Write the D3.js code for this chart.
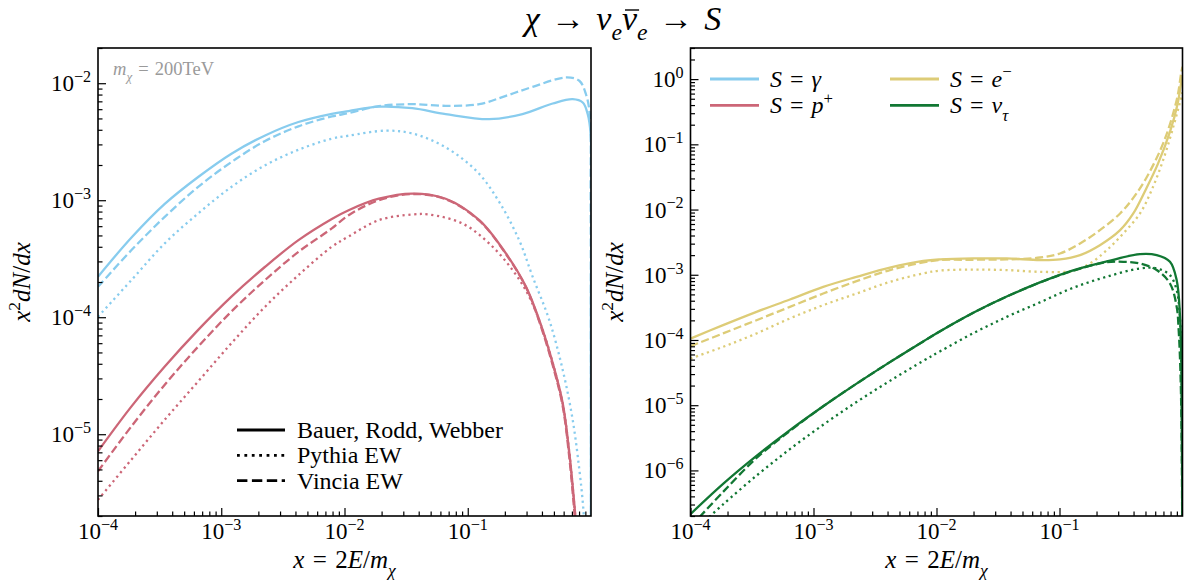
<!DOCTYPE html>
<html>
<head>
<meta charset="utf-8">
<script src="https://cdn.jsdelivr.net/npm/d3@7"></script>
<style>
  body { margin: 0; background: #fff; }
  svg { display: block; }
  text { font-family: "Liberation Serif", "DejaVu Serif", serif; fill: #000; }
</style>
</head>
<body>
<svg id="chart" width="1192" height="580"></svg>
<script>
// ---- data: [x, x^2 dN/dx] ----
// left panel, photons (blue) and protons (red)
const bluBRW = [[1e-4,2.22e-4],[1.87e-4,4.80e-4],[3.48e-4,9.30e-4],[6.50e-4,1.58e-3],[1.21e-3,2.50e-3],[2.27e-3,3.58e-3],[4.23e-3,4.66e-3],[7.89e-3,5.48e-3],[1.08e-2,5.78e-3],[1.90e-2,6.30e-3],[3.55e-2,6.12e-3],[6.62e-2,5.45e-3],[0.149,4.93e-3],[0.278,5.45e-3],[0.489,6.71e-3],[0.710,7.31e-3],[0.857,6.84e-3],[0.940,5.45e-3],[0.993,3.67e-3],[0.9977,1e-4],[0.9993,1e-8]];
const bluVincia = [[1e-4,1.82e-4],[1.87e-4,3.75e-4],[3.48e-4,7.21e-4],[6.50e-4,1.30e-3],[1.21e-3,2.12e-3],[2.27e-3,3.21e-3],[4.23e-3,4.28e-3],[7.89e-3,5.20e-3],[1.08e-2,5.55e-3],[1.90e-2,6.37e-3],[3.55e-2,6.62e-3],[6.62e-2,6.41e-3],[0.124,6.62e-3],[0.204,7.80e-3],[0.336,9.31e-3],[0.627,1.12e-2],[0.804,1.05e-2],[0.910,8.05e-3],[0.977,5.45e-3],[0.993,1e-3],[0.9988,1e-8]];
const bluPythia = [[1e-4,1.01e-4],[1.87e-4,2.08e-4],[3.48e-4,4.28e-4],[6.50e-4,7.71e-4],[1.21e-3,1.30e-3],[2.27e-3,1.99e-3],[4.23e-3,2.70e-3],[7.89e-3,3.36e-3],[1.08e-2,3.56e-3],[2.15e-2,3.93e-3],[3.55e-2,3.72e-3],[6.62e-2,2.83e-3],[0.120,1.74e-3],[0.180,9.66e-4],[0.261,4.57e-4],[0.336,2.22e-4],[0.458,9.48e-5],[0.589,3.56e-5],[0.710,1.33e-5],[0.804,4.99e-6],[0.867,2.28e-6],[0.902,1e-6]];
const redBRW = [[1e-4,7.15e-6],[1.87e-4,1.73e-5],[3.48e-4,3.79e-5],[6.50e-4,7.80e-5],[1.21e-3,1.50e-4],[2.27e-3,2.70e-4],[4.23e-3,4.56e-4],[7.89e-3,6.92e-4],[1.08e-2,8.22e-4],[1.90e-2,1.03e-3],[3.55e-2,1.14e-3],[6.62e-2,1.03e-3],[0.124,6.76e-4],[0.204,3.51e-4],[0.297,1.82e-4],[0.380,9.48e-5],[0.489,4.06e-5],[0.589,1.85e-5],[0.667,6.93e-6],[0.731,2.59e-6],[0.759,1.59e-6]];
const redVincia = [[1e-4,4.83e-6],[1.87e-4,1.17e-5],[3.48e-4,2.65e-5],[6.50e-4,5.61e-5],[1.21e-3,1.12e-4],[2.27e-3,2.08e-4],[4.23e-3,3.62e-4],[7.89e-3,5.74e-4],[1.08e-2,7.45e-4],[1.90e-2,1.00e-3],[3.55e-2,1.13e-3],[6.62e-2,1.02e-3],[0.124,6.68e-4],[0.204,3.47e-4],[0.297,1.80e-4],[0.380,9.23e-5],[0.489,3.89e-5],[0.589,1.74e-5],[0.667,6.31e-6],[0.724,2.51e-6],[0.750,1.59e-6]];
const redPythia = [[1e-4,2.75e-6],[1.87e-4,6.08e-6],[3.48e-4,1.33e-5],[6.50e-4,2.83e-5],[1.21e-3,6.00e-5],[2.27e-3,1.23e-4],[4.23e-3,2.29e-4],[7.89e-3,4.00e-4],[1.08e-2,4.90e-4],[1.90e-2,6.76e-4],[3.55e-2,7.55e-4],[4.85e-2,7.55e-4],[9.06e-2,6.32e-4],[0.149,4.28e-4],[0.231,2.53e-4],[0.315,1.50e-4],[0.405,7.80e-5],[0.489,4.06e-5],[0.589,1.82e-5],[0.667,6.92e-6],[0.731,2.51e-6],[0.759,1.59e-6]];

// right panel, electrons (yellow) and tau neutrinos (green)
const yelBRW = [[1e-4,1.05e-4],[1.84e-4,1.69e-4],[3.44e-4,2.70e-4],[6.43e-4,4.18e-4],[1.20e-3,6.52e-4],[2.24e-3,9.29e-4],[4.18e-3,1.29e-3],[7.80e-3,1.63e-3],[1.07e-2,1.72e-3],[1.99e-2,1.78e-3],[3.72e-2,1.78e-3],[6.93e-2,1.68e-3],[0.101,1.72e-3],[0.147,2.00e-3],[0.213,2.84e-3],[0.311,4.83e-3],[0.398,8.71e-3],[0.501,2.00e-2],[0.631,5.01e-2],[0.794,0.159],[0.912,0.417],[0.977,0.891],[1,1.12]];
const yelVincia = [[1e-4,8.04e-5],[1.84e-4,1.26e-4],[3.44e-4,2.01e-4],[6.43e-4,3.22e-4],[1.20e-3,5.16e-4],[2.24e-3,7.98e-4],[4.18e-3,1.18e-3],[7.80e-3,1.55e-3],[1.07e-2,1.68e-3],[1.99e-2,1.70e-3],[3.72e-2,1.72e-3],[6.93e-2,1.84e-3],[0.101,2.12e-3],[0.147,3.02e-3],[0.213,4.83e-3],[0.311,8.71e-3],[0.398,1.51e-2],[0.513,3.16e-2],[0.708,0.112],[0.902,0.501],[0.977,1.26],[1,1.55]];
const yelPythia = [[1e-4,5.20e-5],[1.84e-4,7.85e-5],[3.44e-4,1.26e-4],[6.43e-4,2.14e-4],[1.20e-3,3.42e-4],[2.24e-3,5.16e-4],[4.18e-3,7.78e-4],[7.80e-3,1.05e-3],[1.07e-2,1.16e-3],[1.99e-2,1.20e-3],[3.72e-2,1.18e-3],[6.93e-2,1.11e-3],[0.129,1.15e-3],[0.177,1.49e-3],[0.242,2.38e-3],[0.330,4.30e-3],[0.451,8.71e-3],[0.562,2.00e-2],[0.708,6.31e-2],[0.851,0.200],[0.955,0.447],[1,0.631]];
const greBRW = [[1e-4,2.14e-7],[1.84e-4,6.22e-7],[3.44e-4,1.67e-6],[6.43e-4,4.14e-6],[1.20e-3,9.62e-6],[2.24e-3,2.14e-5],[4.18e-3,4.58e-5],[7.80e-3,9.51e-5],[1.07e-2,1.36e-4],[1.99e-2,2.61e-4],[3.72e-2,4.63e-4],[6.93e-2,7.64e-4],[0.129,1.17e-3],[0.242,1.60e-3],[0.451,2.07e-3],[0.617,2.00e-3],[0.791,1.58e-3],[0.897,8.26e-4],[0.955,2.26e-4],[0.982,3.16e-5],[0.993,1e-6],[0.9977,1e-8]];
const greVincia = [[1.18e-4,1.91e-7],[1.84e-4,4.68e-7],[3.44e-4,1.55e-6],[6.43e-4,4.03e-6],[1.20e-3,9.62e-6],[2.24e-3,2.14e-5],[4.18e-3,4.58e-5],[7.80e-3,9.51e-5],[1.07e-2,1.36e-4],[1.99e-2,2.61e-4],[3.72e-2,4.63e-4],[6.93e-2,7.60e-4],[0.129,1.15e-3],[0.242,1.56e-3],[0.330,1.58e-3],[0.451,1.49e-3],[0.617,1.18e-3],[0.791,7.35e-4],[0.897,3.22e-4],[0.931,1.41e-4],[0.966,2.51e-5],[0.989,1e-6],[0.9977,1e-8]];
const grePythia = [[1.42e-4,1.93e-7],[1.84e-4,3.01e-7],[3.44e-4,8.32e-7],[6.43e-4,2.12e-6],[1.20e-3,5.02e-6],[2.24e-3,1.12e-5],[4.18e-3,2.36e-5],[7.80e-3,4.78e-5],[1.07e-2,6.70e-5],[1.99e-2,1.27e-4],[3.72e-2,2.26e-4],[6.93e-2,3.77e-4],[0.129,6.31e-4],[0.242,9.33e-4],[0.451,1.25e-3],[0.617,1.25e-3],[0.791,9.86e-4],[0.897,5.81e-4],[0.944,2.86e-4],[0.977,5.01e-5],[0.993,1e-6],[0.9977,1e-8]];

const xDomain = [1e-4, 1];
const yDomainLeft = [2e-6, 2e-2];
const yDomainRight = [2e-7, 3];

const methodLabels = ["Bauer, Rodd, Webber", "Pythia EW", "Vincia EW"];

const colors = {gamma: "#88CCEE", proton: "#CC6677", electron: "#DDCC77", nutau: "#117733"};
const dashes = {brw: null, pythia: "2.2,3.6", vincia: "8.1,3.5"};

const EQ = "\u2004=\u2004";   // wider spacing around "=" like TeX
const svg = d3.select("#chart");

// text with italic / sub / superscript pieces
function rich(sel, parts, fs) {
  let off = 0;
  parts.forEach(p => {
    const small = p.sub || p.sup;
    const target = p.sub ? 0.3 * fs : p.sup ? -0.4 * fs : 0;
    sel.append("tspan")
      .attr("dy", target - off)
      .attr("font-size", small ? fs * 0.7 : fs)
      .attr("font-style", p.i ? "italic" : "normal")
      .text(p.t);
    off = target;
  });
  return sel;
}

const isPow10 = v => Math.abs(Math.log10(v) - Math.round(Math.log10(v))) < 1e-6;
const powLabel = v => {
  const e = Math.round(Math.log10(v));
  return [{t: "10"}, {t: (e < 0 ? "\u2212" : "") + Math.abs(e), sup: true}];
};

function panel(opt) {
  const x = d3.scaleLog().domain(xDomain).range([opt.x0, opt.x1]);
  const y = d3.scaleLog().domain(opt.yDomain).range([opt.y1, opt.y0]);
  const g = svg.append("g");

  g.append("clipPath").attr("id", opt.id)
    .append("rect")
    .attr("x", opt.x0).attr("y", opt.y0)
    .attr("width", opt.x1 - opt.x0).attr("height", opt.y1 - opt.y0);

  const line = d3.line()
    .x(d => x(d[0]))
    .y(d => y(d[1]))
    .curve(d3.curveCatmullRom.alpha(0.5));

  g.append("g").attr("clip-path", `url(#${opt.id})`)
    .selectAll("path")
    .data(opt.series)
    .enter()
    .append("path")
    .attr("d", d => line(d.data))
    .attr("fill", "none")
    .attr("stroke", d => d.color)
    .attr("stroke-width", 2.3)
    .attr("stroke-dasharray", d => d.dash);

  // ticks (inward, left + bottom only)
  const xt = x.ticks().filter(v => v < 0.999);
  const yt = y.ticks();
  const axes = g.append("g");
  const drawAxis = (axis, tr) => {
    const a = axes.append("g").attr("transform", tr).call(axis);
    a.select(".domain").remove();
    a.selectAll("line").attr("stroke", "#000").attr("stroke-width", 1.2);
    a.selectAll("text").remove();
  };
  const bottom = `translate(0,${opt.y1})`, left = `translate(${opt.x0},0)`;
  drawAxis(d3.axisBottom(x).tickValues(xt.filter(v => !isPow10(v))).tickSize(-4.5), bottom);
  drawAxis(d3.axisBottom(x).tickValues(xt.filter(isPow10)).tickSize(-8), bottom);
  drawAxis(d3.axisLeft(y).tickValues(yt.filter(v => !isPow10(v))).tickSize(-4.5), left);
  drawAxis(d3.axisLeft(y).tickValues(yt.filter(isPow10)).tickSize(-8), left);

  xt.filter(isPow10).forEach(v => {
    rich(g.append("text").attr("x", x(v)).attr("y", opt.y1 + 23).attr("text-anchor", "middle"), powLabel(v), 23);
  });
  yt.filter(isPow10).forEach(v => {
    rich(g.append("text").attr("x", opt.x0 - 7).attr("y", y(v) + 8).attr("text-anchor", "end"), powLabel(v), 23);
  });

  // frame
  g.append("rect")
    .attr("x", opt.x0).attr("y", opt.y0)
    .attr("width", opt.x1 - opt.x0).attr("height", opt.y1 - opt.y0)
    .attr("fill", "none").attr("stroke", "#000").attr("stroke-width", 1.6);

  // axis titles
  rich(g.append("text")
      .attr("x", (opt.x0 + opt.x1) / 2).attr("y", 568)
      .attr("text-anchor", "middle"),
    [{t: "x", i: true}, {t: EQ + "2"}, {t: "E", i: true}, {t: "/"}, {t: "m", i: true}, {t: "\u03c7", i: true, sub: true}], 25);
  rich(g.append("text")
      .attr("transform", `translate(${opt.x0 - 68},${(opt.y0 + opt.y1) / 2}) rotate(-90)`)
      .attr("text-anchor", "middle"),
    [{t: "x", i: true}, {t: "2", sup: true}, {t: "dN", i: true}, {t: "/"}, {t: "dx", i: true}], 25);

  return {x, y, g};
}

// left panel
const P1 = panel({
  id: "clipL", x0: 98, x1: 591, y0: 48, y1: 516, yDomain: yDomainLeft,
  series: [
    {data: bluBRW, color: colors.gamma, dash: dashes.brw},
    {data: bluPythia, color: colors.gamma, dash: dashes.pythia},
    {data: bluVincia, color: colors.gamma, dash: dashes.vincia},
    {data: redBRW, color: colors.proton, dash: dashes.brw},
    {data: redPythia, color: colors.proton, dash: dashes.pythia},
    {data: redVincia, color: colors.proton, dash: dashes.vincia}
  ]
});

// right panel
const P2 = panel({
  id: "clipR", x0: 690.5, x1: 1182.5, y0: 48, y1: 516, yDomain: yDomainRight,
  series: [
    {data: yelBRW, color: colors.electron, dash: dashes.brw},
    {data: yelPythia, color: colors.electron, dash: dashes.pythia},
    {data: yelVincia, color: colors.electron, dash: dashes.vincia},
    {data: greBRW, color: colors.nutau, dash: dashes.brw},
    {data: grePythia, color: colors.nutau, dash: dashes.pythia},
    {data: greVincia, color: colors.nutau, dash: dashes.vincia}
  ]
});

// mass annotation
rich(P1.g.append("text").attr("x", 113).attr("y", 75).style("fill", "#9a9a9a"),
  [{t: "m", i: true}, {t: "\u03c7", i: true, sub: true}, {t: EQ + "200TeV"}], 18.5);

// method legend (left)
const legDash = [null, "2.8,4.6", "10.4,4.5"];
methodLabels.forEach((lab, i) => {
  const yy = 430 + i * 25.3;
  P1.g.append("line").attr("x1", 237).attr("x2", 285).attr("y1", yy).attr("y2", yy)
    .attr("stroke", "#000").attr("stroke-width", 2.8).attr("stroke-dasharray", legDash[i]);
  P1.g.append("text").attr("x", 297).attr("y", yy + 8).attr("font-size", 24).text(lab);
});

// species legend (right)
const speciesLegend = [
  {color: colors.gamma, parts: [{t: "S", i: true}, {t: EQ}, {t: "\u03b3", i: true}], col: 0, row: 0},
  {color: colors.proton, parts: [{t: "S", i: true}, {t: EQ}, {t: "p", i: true}, {t: "+", sup: true}], col: 0, row: 1},
  {color: colors.electron, parts: [{t: "S", i: true}, {t: EQ}, {t: "e", i: true}, {t: "\u2212", sup: true}], col: 1, row: 0},
  {color: colors.nutau, parts: [{t: "S", i: true}, {t: EQ}, {t: "\u03bd", i: true}, {t: "\u03c4", i: true, sub: true}], col: 1, row: 1}
];
speciesLegend.forEach(d => {
  const lx = 710 + d.col * 180, yy = 79 + d.row * 26.3;
  P2.g.append("line").attr("x1", lx).attr("x2", lx + 49).attr("y1", yy).attr("y2", yy)
    .attr("stroke", d.color).attr("stroke-width", 2.8);
  rich(P2.g.append("text").attr("x", lx + 60).attr("y", yy + 8), d.parts, 24);
});

// title; the bar over the second nu is drawn as a short line
const title = rich(svg.append("text").attr("x", 623).attr("y", 30).attr("text-anchor", "middle"),
  [{t: "\u03c7", i: true}, {t: "\u2004\u2192\u2004"}, {t: "\u03bd", i: true}, {t: "e", i: true, sub: true},
   {t: "\u03bd", i: true}, {t: "e", i: true, sub: true}, {t: "\u2004\u2192\u2004"}, {t: "S", i: true}], 34);
const tn = title.node();
const nuStart = tn.getStartPositionOfChar(6), nuEnd = tn.getEndPositionOfChar(6);
svg.append("line")
  .attr("x1", nuStart.x + 3).attr("x2", nuEnd.x + 2)
  .attr("y1", nuStart.y - 20).attr("y2", nuStart.y - 20)
  .attr("stroke", "#000").attr("stroke-width", 1.4);
</script>
</body>
</html>
